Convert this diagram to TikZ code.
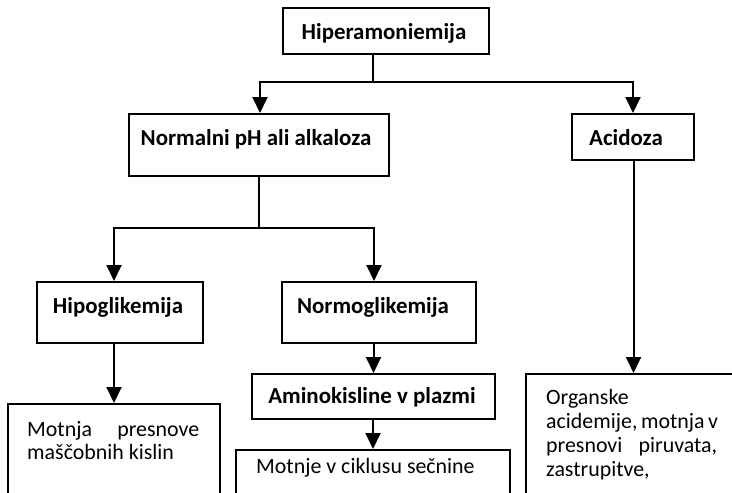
\documentclass[tikz,border=0pt]{standalone}
\usepackage{fontspec}
\setmainfont{Carlito}
\usetikzlibrary{arrows.meta}
\begin{document}
\begin{tikzpicture}[x=1pt,y=-1pt,
  box/.style={draw, line width=2pt, inner sep=0pt, anchor=north west},
  head/.style={anchor=base, inner sep=0pt, font=\fontsize{22.9}{24}\selectfont\bfseries},
  body/.style={anchor=base west, inner sep=0pt, font=\fontsize{21.9}{23.5}\selectfont},
  link/.style={line width=2pt},
  arr/.style={link, -{Triangle[length=16pt,width=15pt]}}]
\useasboundingbox (0,0) rectangle (732,493);
\clip (0,0) rectangle (732,493);

% boxes
\node[box, minimum width=206pt, minimum height=46pt] (hip) at (282,7) {};
\node[box, minimum width=260pt, minimum height=62pt] (norm) at (128,113) {};
\node[box, minimum width=122pt, minimum height=46pt] (acid) at (571,113) {};
\node[box, minimum width=166pt, minimum height=61pt] (hipo) at (36,281) {};
\node[box, minimum width=194pt, minimum height=61pt] (normo) at (281,281) {};
\node[box, minimum width=243pt, minimum height=45pt] (amino) at (251,373) {};
\node[box, minimum width=212pt, minimum height=140pt] (fat) at (7,403) {};
\node[box, minimum width=274pt, minimum height=140pt] (urea) at (235,449) {};
\node[box, minimum width=215pt, minimum height=170pt] (org) at (525,373) {};

% labels
\node[head] (thip) at (384,39) {Hiperamoniemija};
\node[head] (tnorm) at (256,145) {Normalni pH ali alkaloza};
\node[head] (tacid) at (626,145) {Acidoza};
\node[head] (thipo) at (118,313) {Hipoglikemija};
\node[head] (tnormo) at (373,313) {Normoglikemija};
\node[head] (tamino) at (372,403) {Aminokisline v plazmi};

\node[body] (tfat1) at (27,436) {\makebox[172pt][s]{Motnja presnove}};
\node[body] (tfat2) at (27,459) {maščobnih kislin};
\node[body] (turea) at (256,473) {Motnje v ciklusu sečnine};
\node[body] (torg1) at (546,404) {Organske};
\node[body] (torg2) at (546,428) {\makebox[171pt][s]{acidemije, motnja v}};
\node[body] (torg3) at (546,452) {\makebox[171pt][s]{presnovi piruvata,}};
\node[body] (torg4) at (546,476) {zastrupitve,};

% connectors
\coordinate (j0) at (373,82);
\draw[link] (hip.south -| j0) -- (j0);
\draw[arr] (j0) -| ([xshift=1pt]norm.north);
\draw[arr] (j0) -| (acid.north);

\coordinate (j1) at (259,228);
\draw[link] (norm.south -| j1) -- (j1);
\draw[arr] (j1) -| ([xshift=-6pt]hipo.north);
\draw[arr] (j1) -| ([xshift=-5pt]normo.north);

\draw[arr] (hipo.south -| fat.north) -- (fat.north);
\draw[arr] (normo.south -| amino.north) -- (amino.north);
\draw[arr] (amino.south -| urea.north) -- (urea.north);
\draw[arr] (acid.south -| org.north) -- (org.north);
\end{tikzpicture}
\end{document}
